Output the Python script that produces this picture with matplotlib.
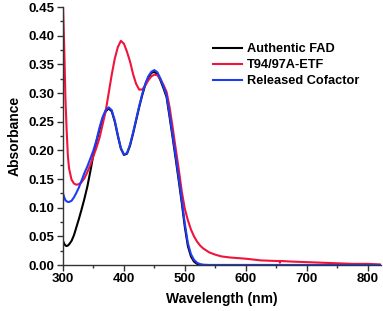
import matplotlib
matplotlib.use("Agg")
import matplotlib.pyplot as plt
from matplotlib.ticker import MultipleLocator, FormatStrFormatter

wavelength = [300, 302, 304, 306, 308, 310, 314, 318, 322, 326, 330, 335, 340, 345,
              350, 355, 360, 365, 370, 375, 380, 385, 390, 395, 400, 405, 410, 415,
              420, 425, 430, 435, 440, 445, 450, 455, 460, 465, 470, 475, 480, 485,
              490, 495, 500, 505, 510, 515, 520, 525, 530, 540, 550, 560, 575, 600,
              625, 650, 655, 656, 657, 675, 700, 725, 750, 775, 800, 820]

authentic_fad = [0.042, 0.037, 0.034, 0.033, 0.034, 0.036, 0.042, 0.052, 0.066, 0.080,
                 0.095, 0.115, 0.137, 0.164, 0.193, 0.216, 0.236, 0.255, 0.268, 0.273,
                 0.268, 0.250, 0.225, 0.203, 0.192, 0.194, 0.208, 0.229, 0.252, 0.275,
                 0.296, 0.314, 0.327, 0.335, 0.337, 0.333, 0.322, 0.308, 0.293, 0.258,
                 0.222, 0.185, 0.147, 0.108, 0.066, 0.033, 0.015, 0.006, 0.002, 0.0005,
                 0.0, 0.0, 0.0, 0.0, 0.0, 0.0, 0.0, 0.0, 0.0, 0.0, 0.0, 0.0, 0.0, 0.0,
                 0.0, 0.0, 0.0, 0.0]

t94_97a_etf = [0.450, 0.380, 0.290, 0.235, 0.190, 0.168, 0.149, 0.142, 0.140, 0.141,
               0.144, 0.151, 0.162, 0.175, 0.190, 0.205, 0.222, 0.245, 0.268, 0.300,
               0.332, 0.360, 0.380, 0.391, 0.386, 0.372, 0.355, 0.333, 0.316, 0.306,
               0.306, 0.313, 0.322, 0.329, 0.332, 0.331, 0.324, 0.314, 0.302, 0.275,
               0.240, 0.203, 0.167, 0.128, 0.098, 0.078, 0.062, 0.050, 0.041, 0.034,
               0.029, 0.022, 0.018, 0.015, 0.013, 0.011, 0.008, 0.007, 0.007, 0.004,
               0.007, 0.006, 0.005, 0.004, 0.003, 0.002, 0.002, 0.001]

released_cofactor = [0.125, 0.118, 0.113, 0.111, 0.110, 0.110, 0.112, 0.118, 0.126, 0.135,
                     0.146, 0.160, 0.172, 0.186, 0.200, 0.218, 0.240, 0.258, 0.270, 0.275,
                     0.270, 0.252, 0.227, 0.204, 0.193, 0.195, 0.210, 0.231, 0.254, 0.277,
                     0.298, 0.316, 0.329, 0.337, 0.340, 0.336, 0.325, 0.311, 0.296, 0.262,
                     0.226, 0.190, 0.152, 0.113, 0.072, 0.038, 0.019, 0.009, 0.004, 0.0015,
                     0.0005, 0.0, 0.0, 0.0, 0.0, 0.0, 0.0, 0.0, 0.0, 0.0, 0.0, 0.0, 0.0,
                     0.0, 0.0, 0.0, 0.0, 0.0]

series_labels = ["Authentic FAD", "T94/97A-ETF", "Released Cofactor"]
series_colors = ["#000000", "#f0143c", "#1f3cf5"]

plt.rcParams['font.family'] = ['Liberation Sans', 'DejaVu Sans']
plt.rcParams['font.weight'] = 'bold'

fig = plt.figure(figsize=(3.83, 3.11), dpi=100)
ax = fig.add_axes([63/383, 1 - 265/311, 318/383, 258/311])

for ys, lab, col in zip([authentic_fad, t94_97a_etf, released_cofactor], series_labels, series_colors):
    ax.plot(wavelength, ys, color=col, lw=1.5, label=lab)

ax.set_xlim(300, 822)
ax.set_ylim(0, 0.45)
ax.xaxis.set_major_locator(MultipleLocator(100))
ax.xaxis.set_minor_locator(MultipleLocator(50))
ax.yaxis.set_major_locator(MultipleLocator(0.05))
ax.yaxis.set_minor_locator(MultipleLocator(0.025))
ax.yaxis.set_major_formatter(FormatStrFormatter('%.2f'))

for s in ['top', 'right']:
    ax.spines[s].set_visible(False)
for s in ['left', 'bottom']:
    ax.spines[s].set_linewidth(1.0)
    ax.spines[s].set_color('#333333')

ax.tick_params(which='major', direction='out', length=4.5, width=1.0, labelsize=9.5, pad=1.5, color='#333333')
ax.tick_params(which='minor', direction='out', length=2.5, width=1.0, color='#333333')
for lbl in ax.get_xticklabels() + ax.get_yticklabels():
    lbl.set_fontweight('bold')

ax.set_xlabel("Wavelength (nm)", fontsize=10, fontweight='bold', labelpad=5)
ax.set_ylabel("Absorbance", fontsize=10, fontweight='bold', labelpad=5)

leg = ax.legend(loc='upper left', bbox_to_anchor=(213/383, 1 - 43/311), bbox_transform=fig.transFigure,
                frameon=False, fontsize=9.2, handlelength=2.3, handletextpad=0.35,
                labelspacing=0.32, borderpad=0, borderaxespad=0)
for t in leg.get_texts():
    t.set_fontweight('bold')

fig.savefig("out.png", dpi=100)
